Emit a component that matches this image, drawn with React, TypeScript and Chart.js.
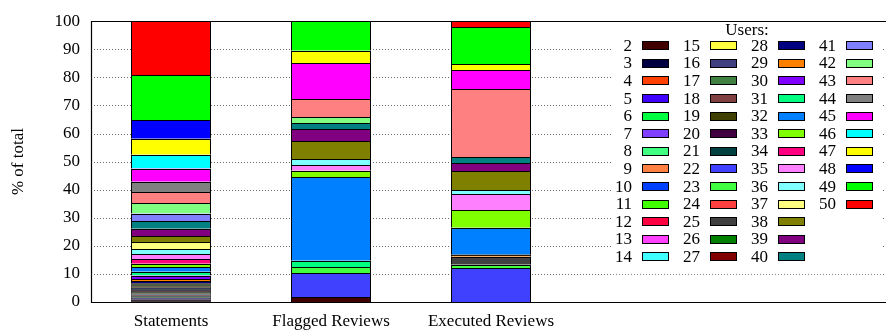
import React, { useEffect, useRef } from "react";
import { Chart, registerables } from "chart.js";

Chart.register(...registerables);

// Bar groups along the x axis
const categories = ["Statements", "Flagged Reviews", "Executed Reviews"];

// Users 2..50, stacked bottom (2) to top (50)
const users = [
  "2", "3", "4", "5", "6", "7", "8", "9", "10", "11",
  "12", "13", "14", "15", "16", "17", "18", "19", "20", "21",
  "22", "23", "24", "25", "26", "27", "28", "29", "30", "31",
  "32", "33", "34", "35", "36", "37", "38", "39", "40", "41",
  "42", "43", "44", "45", "46", "47", "48", "49", "50",
];

const userColors = [
  "#400000", "#000040", "#ff4000", "#4000ff", "#00ff40", "#8040ff", "#40ff80", "#ff8040", "#0040ff", "#40ff00",
  "#ff0040", "#ff40ff", "#40ffff", "#ffff40", "#404080", "#408040", "#804040", "#404000", "#400040", "#004040",
  "#4040ff", "#40ff40", "#ff4040", "#404040", "#008000", "#800000", "#000080", "#ff8000", "#8000ff", "#00ff80",
  "#0080ff", "#80ff00", "#ff0080", "#ff80ff", "#80ffff", "#ffff80", "#808000", "#800080", "#008080", "#8080ff",
  "#80ff80", "#ff8080", "#808080", "#ff00ff", "#00ffff", "#ffff00", "#0000ff", "#00ff00", "#ff0000",
];

// Share of total (%) per user, same order as `users`
const statements = [
  0.3, 0.3, 0.2, 0.2, 0.2, 0.2, 0.2, 0.2, 0.2, 0.2,
  0.2, 0.2, 0.2, 0.2, 0.3, 0.3, 0.2, 0.2, 0.3, 0.2,
  0.4, 0.3, 0.3, 0.3, 0.4, 0.4, 0.8, 0.8, 1.2, 1.4,
  1.5, 1.3, 1.6, 1.9, 1.8, 2.3, 2.3, 2.6, 2.7, 2.7,
  3.8, 3.8, 3.7, 4.7, 4.9, 5.7, 6.6, 16.1, 19.2,
];

const flaggedReviews = [
  1.7, 0, 0, 0, 0, 0, 0, 0, 0, 0,
  0, 0, 0, 0, 0, 0, 0, 0, 0, 0,
  8.6, 2.2, 0, 0, 0, 0, 0, 0, 0, 2.2,
  29.7, 2.3, 0, 2.1, 2.0, 0, 6.4, 4.3, 2.1, 0,
  2.3, 6.3, 0, 12.9, 0, 4.4, 0, 10.5, 0,
];

const executedReviews = [
  0, 0, 0, 0, 0, 0, 0, 0, 0, 0,
  0, 0, 0, 0, 0, 0, 0, 0, 0, 0,
  12.0, 1.3, 0, 2.8, 0, 0, 0, 0.7, 0, 0,
  9.6, 6.3, 0, 5.6, 1.5, 0, 6.8, 2.9, 2.0, 0,
  0, 24.2, 0, 6.9, 0, 2.1, 0, 13.1, 2.2,
];

const yTicks = [0, 10, 20, 30, 40, 50, 60, 70, 80, 90, 100];

const FONT_FAMILY = "'Liberation Serif', 'Times New Roman', serif";
const FONT_SIZE = 17;

// Dotted horizontal grid behind the bars
const gridPlugin = {
  id: "dottedGrid",
  beforeDatasetsDraw(chart: any) {
    const { ctx, chartArea } = chart;
    const yScale = chart.scales.y;
    ctx.save();
    ctx.strokeStyle = "#6a6a6a";
    ctx.lineWidth = 1;
    ctx.setLineDash([1, 2]);
    for (const v of yTicks) {
      if (v === 0 || v === 100) continue;
      const y = Math.round(yScale.getPixelForValue(v)) + 0.5;
      ctx.beginPath();
      ctx.moveTo(chartArea.left, y);
      ctx.lineTo(chartArea.right, y);
      ctx.stroke();
    }
    ctx.restore();
  },
};

// Black edge on top of every stacked segment; thinner for very thin segments
const segmentEdgePlugin = {
  id: "segmentEdges",
  afterDatasetsDraw(chart: any) {
    const { ctx } = chart;
    ctx.save();
    ctx.strokeStyle = "#000";
    chart.data.datasets.forEach((ds: any, di: number) => {
      const meta = chart.getDatasetMeta(di);
      meta.data.forEach((el: any, j: number) => {
        if (ds.data[j] == null) return;
        const half = el.width / 2;
        const h = Math.abs(el.base - el.y);
        let y: number;
        if (h >= 2) {
          ctx.lineWidth = 1;
          y = Math.round(el.y) + 0.5;
        } else {
          ctx.lineWidth = Math.min(1, h * 0.55);
          y = el.y + ctx.lineWidth / 2;
        }
        ctx.beginPath();
        ctx.moveTo(el.x - half, y);
        ctx.lineTo(el.x + half, y);
        ctx.stroke();
      });
    });
    ctx.restore();
  },
};

// Column-wise key box ("Users:") and the plot frame
const keyPlugin = {
  id: "usersKey",
  afterDatasetsDraw(chart: any) {
    const { ctx, chartArea } = chart;
    const datasets = chart.data.datasets;
    const rowsPerColumn = 13;
    const rowGap = 17.6;
    const firstRowY = 45.2;
    const colGap = 68;
    const numRight = 632;

    ctx.save();
    ctx.fillStyle = "#ffffff";
    ctx.fillRect(611, chartArea.top + 1, 272, 252);

    ctx.font = `${FONT_SIZE}px ${FONT_FAMILY}`;
    ctx.fillStyle = "#000";
    ctx.textAlign = "center";
    ctx.textBaseline = "alphabetic";
    ctx.fillText("Users:", 747, 34.5);

    datasets.forEach((ds: any, i: number) => {
      const col = Math.floor(i / rowsPerColumn);
      const row = i % rowsPerColumn;
      const cy = firstRowY + row * rowGap;
      const xr = numRight + col * colGap;
      ctx.fillStyle = "#000";
      ctx.textAlign = "right";
      ctx.fillText(ds.label, xr, cy + 5.6);
      const bx = xr + 10;
      const by = Math.round(cy - 4) + 0.5;
      ctx.fillStyle = ds.backgroundColor;
      ctx.fillRect(bx, by, 27, 8);
      ctx.strokeStyle = "#000";
      ctx.lineWidth = 1;
      ctx.strokeRect(bx + 0.5, by, 26, 8);
    });

    // frame
    ctx.strokeStyle = "#000";
    ctx.lineWidth = 1.2;
    ctx.beginPath();
    const l = Math.round(chartArea.left) + 0.5;
    const t = Math.round(chartArea.top) + 0.5;
    const b = Math.round(chartArea.bottom) + 0.5;
    const r = Math.round(chartArea.right) + 0.5;
    ctx.moveTo(l, t);
    ctx.lineTo(r, t);
    ctx.lineTo(r, b);
    ctx.lineTo(l, b);
    ctx.closePath();
    ctx.stroke();
    ctx.restore();
  },
};

export default function App() {
  const canvasRef = useRef<HTMLCanvasElement | null>(null);

  useEffect(() => {
    const canvas = canvasRef.current;
    if (!canvas) return;

    const labels = [...categories, "", ""];
    const datasets = users.map((u, i) => ({
      label: u,
      data: [statements[i], flaggedReviews[i], executedReviews[i], null, null].map((v) =>
        v ? v : null
      ),
      backgroundColor: userColors[i],
      borderColor: "#000",
      borderWidth: { top: 0, left: 1, right: 1, bottom: 0 },
      borderSkipped: false,
      categoryPercentage: 1,
      barPercentage: 0.5,
    }));

    const font = { family: FONT_FAMILY, size: FONT_SIZE };

    const chart = new Chart(canvas, {
      type: "bar",
      data: { labels, datasets: datasets as any },
      options: {
        responsive: false,
        animation: false,
        devicePixelRatio: 1,
        layout: { padding: { top: 14, right: 9, left: 0, bottom: 0 } },
        plugins: {
          legend: { display: false },
          tooltip: { enabled: false },
        },
        scales: {
          x: {
            type: "category",
            stacked: true,
            offset: true,
            grid: { display: false, drawTicks: false },
            border: { display: false },
            ticks: { font, color: "#000", padding: 9, maxRotation: 0, autoSkip: false },
            afterFit: (s: any) => {
              s.height = 30;
            },
          },
          y: {
            type: "linear",
            stacked: true,
            min: 0,
            max: 100,
            grid: { display: false, drawTicks: false },
            border: { display: false },
            ticks: { font, color: "#000", padding: 11 },
            afterBuildTicks: (s: any) => {
              s.ticks = yTicks.map((v) => ({ value: v }));
            },
            title: {
              display: true,
              text: "% of total",
              font,
              color: "#000",
              padding: { top: 8, bottom: 0 },
            },
            afterFit: (s: any) => {
              s.width = 91;
            },
          },
        },
      } as any,
      plugins: [gridPlugin, segmentEdgePlugin, keyPlugin],
    });

    return () => chart.destroy();
  }, []);

  return (
    <div
      style={{
        position: "fixed",
        left: 0,
        top: 0,
        width: 886,
        height: 332,
        overflow: "hidden",
        background: "#fff",
      }}
    >
      <canvas ref={canvasRef} width={900} height={332} style={{ display: "block" }} />
    </div>
  );
}
